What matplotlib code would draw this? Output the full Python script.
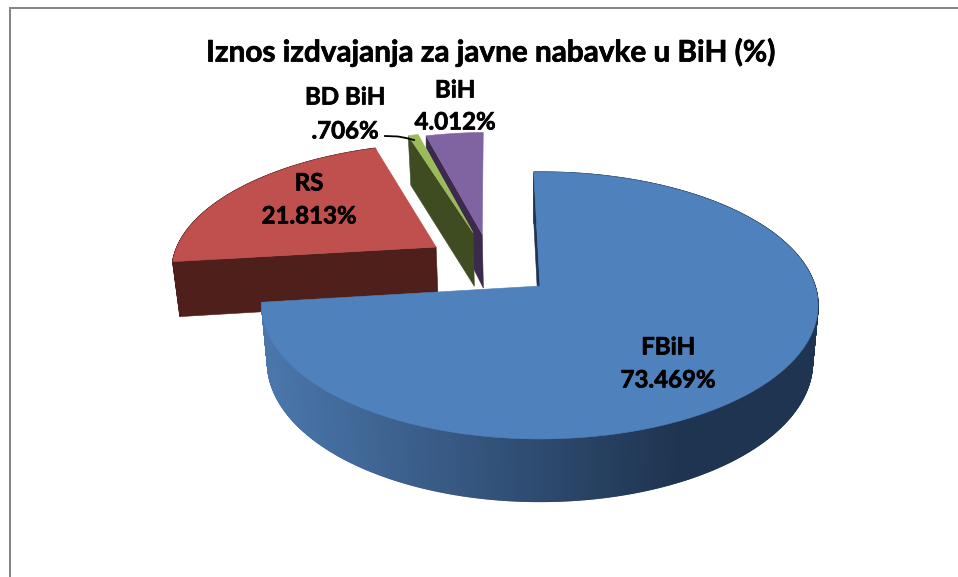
import numpy as np
import matplotlib
matplotlib.use("Agg")
import matplotlib.pyplot as plt
import matplotlib.patheffects as pe
from matplotlib.colors import to_rgb

title = "Iznos izdvajanja za javne nabavke u BiH (%)"
names = ["FBiH", "RS", "BD BiH", "BiH"]
shares = [73.469, 21.813, 0.706, 4.012]
value_text = ["73.469%", "21.813%", ".706%", "4.012%"]

top_colors = ["#4f81bd", "#c0504d", "#9bbb59", "#8064a2"]
wall_colors = ["#1f3450", "#4f1f1c", "#3f4c22", "#3c2a4d"]

# how far each slice is pulled out, on the disk
pull_u = [0.0, -0.395, -0.259, -0.223]
pull_v = [0.0, -0.312, -0.435, -0.42]
radius = [1.0, 0.985, 1.0, 1.0]

label_x = [668, 309, 345, 455]
name_y = [347, 183, 97, 90]
value_y = [380, 216, 131, 122]

# perspective of the disk, in pixels
x0, y0 = 540, 286
a, b, k = 275, 130.6, 0.146
depth, shrink = 56, 0.98
start_angle = -1.5


def project(u, v, lower=False):
    w = 1 - k * v
    if lower:
        return x0 + shrink * a * u / w, y0 + (shrink * b * v + depth) / w
    return x0 + a * u / w, y0 + b * v / w


def disk(theta, i):
    t = np.radians(theta)
    return radius[i] * np.sin(t) + pull_u[i], -radius[i] * np.cos(t) + pull_v[i]


fig = plt.figure(figsize=(9.58, 5.77), dpi=100)
ax = fig.add_axes([0, 0, 1, 1])
ax.set_xlim(0, 958)
ax.set_ylim(577, 0)
ax.axis("off")

# chart frame
ax.plot([10, 10, 958], [577, 8, 8], color="#868686", lw=1.44, zorder=1,
        solid_joinstyle="miter")

edges = start_angle + np.concatenate([[0], np.cumsum(shares)]) * 3.6
rim_left = np.array(to_rgb("#4a76ab"))
rim_right = np.array(to_rgb("#1f3450"))

# slices at the back first, the big one goes on top
for i in [1, 3, 2, 0]:
    th = np.linspace(edges[i], edges[i + 1], max(int(edges[i + 1] - edges[i]) * 4, 6))
    u, v = disk(th, i)
    tx, ty = project(u, v)
    lx, ly = project(u, v, True)
    ax_, ay_ = project(pull_u[i], pull_v[i])
    bx_, by_ = project(pull_u[i], pull_v[i], True)

    # outer side, the two thin slices do not show one
    if i in (0, 1):
        for j in range(len(th) - 1):
            if i == 0:
                f = np.clip((tx[j] - 270) / (680 - 270), 0, 1)
                col = rim_left * (1 - f) + rim_right * f
            else:
                col = wall_colors[i]
            ax.fill([tx[j], tx[j + 1], lx[j + 1], lx[j]], [ty[j], ty[j + 1], ly[j + 1], ly[j]],
                    color=col, lw=1.0, zorder=2)

    # cut side
    if i == 3:
        # BiH: only a thin band shows at the outer end
        d_x, d_y = project(pull_u[2], pull_v[2])
        ax.fill([ax_, tx[0], tx[0], d_x, d_x, bx_], [ay_, ty[0], ty[0] + 12, d_y, d_y + 35, by_],
                color=wall_colors[i], lw=0.4, zorder=2)
    else:
        ax.fill([ax_, tx[0], lx[0], bx_], [ay_, ty[0], ly[0], by_], color=wall_colors[i], lw=0.4, zorder=2)
    # top face
    ax.fill(np.r_[ax_, tx], np.r_[ay_, ty], color=top_colors[i], lw=0.4, zorder=2)

stroke = [pe.withStroke(linewidth=0.5, foreground="black")]
for i in range(4):
    ax.text(label_x[i], name_y[i], names[i], ha="center", va="center", fontsize=17.3,
            fontweight="bold", family="Lato", color="black", zorder=20, path_effects=stroke)
    ax.text(label_x[i], value_y[i], value_text[i], ha="center", va="center", fontsize=17.3,
            fontweight="bold", family="Lato", color="black", zorder=20, path_effects=stroke)

# leader for the small slice
ax.plot([385, 398, 406, 414], [136, 136.5, 138, 140], color="black", lw=1.3, zorder=20)

ax.text(491, 52, title, ha="center", va="center", fontsize=21.4, fontweight="bold",
        family="Lato", color="black", zorder=20, path_effects=stroke)

fig.savefig("out.png", dpi=100, facecolor="white")
